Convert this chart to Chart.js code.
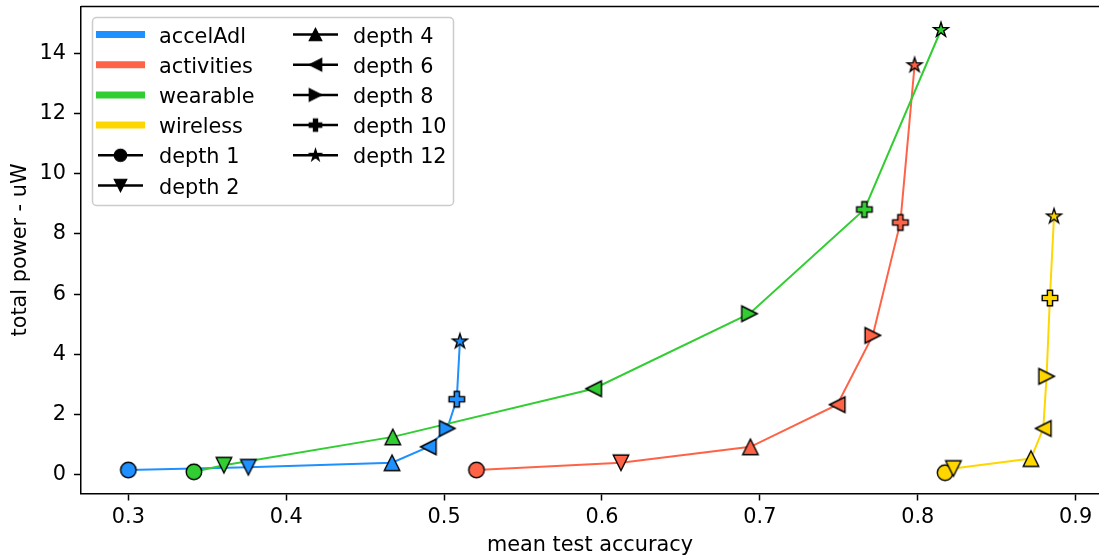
<!DOCTYPE html>
<html>
<head>
<meta charset="utf-8">
<script src="https://cdn.jsdelivr.net/npm/chart.js@4"></script>
<style>
  html, body { margin: 0; padding: 0; background: #fff; overflow: hidden; }
</style>
</head>
<body>
<canvas id="myChart" width="1099" height="560"></canvas>
<script>
// depth of each point, same order in every series
const depths = [1, 2, 4, 6, 8, 10, 12];
const depthMarkers = ['o', 'v', '^', '<', '>', 'P', '*'];

const accelAdlAcc   = [0.300, 0.376, 0.467, 0.490, 0.502, 0.508, 0.510];
const accelAdlPower = [0.16, 0.25, 0.40, 0.93, 1.54, 2.51, 4.43];

const activitiesAcc   = [0.5205, 0.612, 0.694, 0.749, 0.7715, 0.789, 0.798];
const activitiesPower = [0.16, 0.40, 0.93, 2.33, 4.63, 8.38, 13.60];

const wearableAcc   = [0.3415, 0.3605, 0.4675, 0.5947, 0.6934, 0.7662, 0.8147];
const wearablePower = [0.10, 0.32, 1.26, 2.86, 5.35, 8.81, 14.77];

const wirelessAcc   = [0.8173, 0.8226, 0.8717, 0.8795, 0.8816, 0.8837, 0.8863];
const wirelessPower = [0.07, 0.21, 0.54, 1.54, 3.27, 5.87, 8.58];

const seriesNames  = ['accelAdl', 'activities', 'wearable', 'wireless'];
const seriesColors = ['#1E90FF', '#FF6347', '#32CD32', '#FFD700'];

const xTicks = [0.3, 0.4, 0.5, 0.6, 0.7, 0.8, 0.9];
const yTicks = [0, 2, 4, 6, 8, 10, 12, 14];

const FONT = 'DejaVu Sans';
const FS = 20.8;

// matplotlib-like marker drawn into a small canvas
function makeMarker(shape, fill, size, edge) {
  const w = Math.ceil(size + 6);
  const c = document.createElement('canvas');
  c.width = w; c.height = w;
  const g = c.getContext('2d');
  const r = size / 2;
  g.translate(w / 2, w / 2);
  g.beginPath();
  const poly = pts => { pts.forEach((p, i) => i ? g.lineTo(p[0], p[1]) : g.moveTo(p[0], p[1])); g.closePath(); };
  if (shape === 'o') g.arc(0, 0, r, 0, Math.PI * 2);
  else if (shape === '^') poly([[0, -r], [-r, r], [r, r]]);
  else if (shape === 'v') poly([[0, r], [-r, -r], [r, -r]]);
  else if (shape === '<') poly([[-r, 0], [r, -r], [r, r]]);
  else if (shape === '>') poly([[r, 0], [-r, -r], [-r, r]]);
  else if (shape === 'P') {
    const a = size / 6, b = size / 2;
    poly([[-a, -b], [a, -b], [a, -a], [b, -a], [b, a], [a, a], [a, b], [-a, b], [-a, a], [-b, a], [-b, -a], [-a, -a]]);
  } else if (shape === '*') {
    const pts = [];
    for (let k = 0; k < 10; k++) {
      const ang = -Math.PI / 2 + k * Math.PI / 5;
      const rr = k % 2 ? r * 0.381966 : r;
      pts.push([rr * Math.cos(ang), rr * Math.sin(ang)]);
    }
    poly(pts);
  }
  g.fillStyle = fill;
  g.fill();
  g.lineWidth = edge;
  g.strokeStyle = '#000';
  g.lineJoin = 'miter';
  g.stroke();
  return c;
}

const accs = [accelAdlAcc, activitiesAcc, wearableAcc, wirelessAcc];
const powers = [accelAdlPower, activitiesPower, wearablePower, wirelessPower];

const datasets = [];
seriesNames.forEach((name, i) => {
  const pts = accs[i].map((x, j) => ({ x: x, y: powers[i][j] }));
  datasets.push({
    label: name,
    data: pts,
    showLine: true,
    borderColor: seriesColors[i],
    borderWidth: 2,
    tension: 0,
    pointRadius: 0,
    order: 20 - i
  });
});
seriesNames.forEach((name, i) => {
  const pts = accs[i].map((x, j) => ({ x: x, y: powers[i][j] }));
  datasets.push({
    label: name + ' markers',
    data: pts,
    showLine: false,
    pointStyle: depthMarkers.map(m => makeMarker(m, seriesColors[i], 15.5, 1.4)),
    pointRadius: 8,
    order: 10 - i
  });
});

// legend in the style of the original figure (two columns)
const legendPlugin = {
  id: 'mplLegend',
  afterDraw(chart) {
    const ctx = chart.ctx;
    const area = chart.chartArea;
    ctx.save();
    // top spine (the right one falls just outside the picture)
    ctx.strokeStyle = '#000';
    ctx.lineWidth = 1.5;
    ctx.beginPath();
    ctx.moveTo(area.left, area.top);
    ctx.lineTo(area.right, area.top);
    ctx.stroke();

    ctx.beginPath();
    ctx.roundRect(92.5, 17.5, 361, 188, 4);
    ctx.fillStyle = 'rgba(255,255,255,0.8)';
    ctx.fill();
    ctx.strokeStyle = '#cccccc';
    ctx.lineWidth = 1.5;
    ctx.stroke();

    const rowY = k => 34.5 + k * 30.2;
    const items = [];
    seriesNames.forEach((n, i) => items.push({ text: n, color: seriesColors[i] }));
    depths.forEach((d, i) => items.push({ text: 'depth ' + d, marker: depthMarkers[i] }));

    ctx.font = FS + 'px "' + FONT + '"';
    ctx.textBaseline = 'alphabetic';
    ctx.textAlign = 'left';
    items.forEach((it, k) => {
      const col = k < 6 ? 0 : 1;
      const row = col ? k - 6 : k;
      const y = rowY(row);
      if (it.color) {
        ctx.strokeStyle = it.color;
        ctx.lineWidth = 7;
        ctx.lineCap = 'butt';
        ctx.beginPath();
        ctx.moveTo(96, y);
        ctx.lineTo(145, y);
        ctx.stroke();
      } else {
        const x0 = col ? 293 : 98, x1 = col ? 338 : 143;
        ctx.strokeStyle = '#000';
        ctx.lineWidth = 2.5;
        ctx.beginPath();
        ctx.moveTo(x0, y);
        ctx.lineTo(x1, y);
        ctx.stroke();
        const m = makeMarker(it.marker, '#000', 12.5, 1.2);
        ctx.drawImage(m, (x0 + x1) / 2 - m.width / 2, y - m.height / 2);
      }
      ctx.fillStyle = '#000';
      ctx.fillText(it.text, col ? 353 : 159, y + 8);
    });
    ctx.restore();
  }
};

const tickFont = { family: FONT, size: FS };

const myChart = new Chart(document.getElementById('myChart'), {
  type: 'line',
  data: { datasets },
  plugins: [legendPlugin],
  options: {
    responsive: false,
    animation: false,
    layout: { autoPadding: false, padding: { top: 6.5, right: 0, left: 0, bottom: 0 } },
    plugins: { legend: { display: false }, tooltip: { enabled: false } },
    scales: {
      x: {
        type: 'linear',
        min: 0.2700,
        max: 0.9148,
        afterBuildTicks: s => { s.ticks = xTicks.map(v => ({ value: v })); },
        afterFit: s => { s.height = 66.5; s.paddingLeft = 0; s.paddingRight = 0; },
        ticks: { font: tickFont, color: '#000', padding: 5, maxRotation: 0, callback: v => v.toFixed(1) },
        grid: { drawOnChartArea: false, drawTicks: true, tickLength: 7, tickColor: '#000', tickWidth: 1.5 },
        border: { display: true, color: '#000', width: 1.5 },
        title: { display: true, text: 'mean test accuracy', color: '#000', font: tickFont, padding: { top: 0, bottom: 2 } }
      },
      y: {
        type: 'linear',
        min: -0.62,
        max: 15.55,
        afterBuildTicks: s => { s.ticks = yTicks.map(v => ({ value: v })); },
        afterFit: s => { s.width = 81; s.paddingTop = 0; s.paddingBottom = 0; },
        ticks: { font: tickFont, color: '#000', padding: 8, callback: v => String(v) },
        grid: { drawOnChartArea: false, drawTicks: true, tickLength: 7, tickColor: '#000', tickWidth: 1.5 },
        border: { display: true, color: '#000', width: 1.5 },
        title: { display: true, text: 'total power - uW', color: '#000', font: tickFont, padding: { top: 8, bottom: 0 } }
      }
    }
  }
});
</script>
</body>
</html>
